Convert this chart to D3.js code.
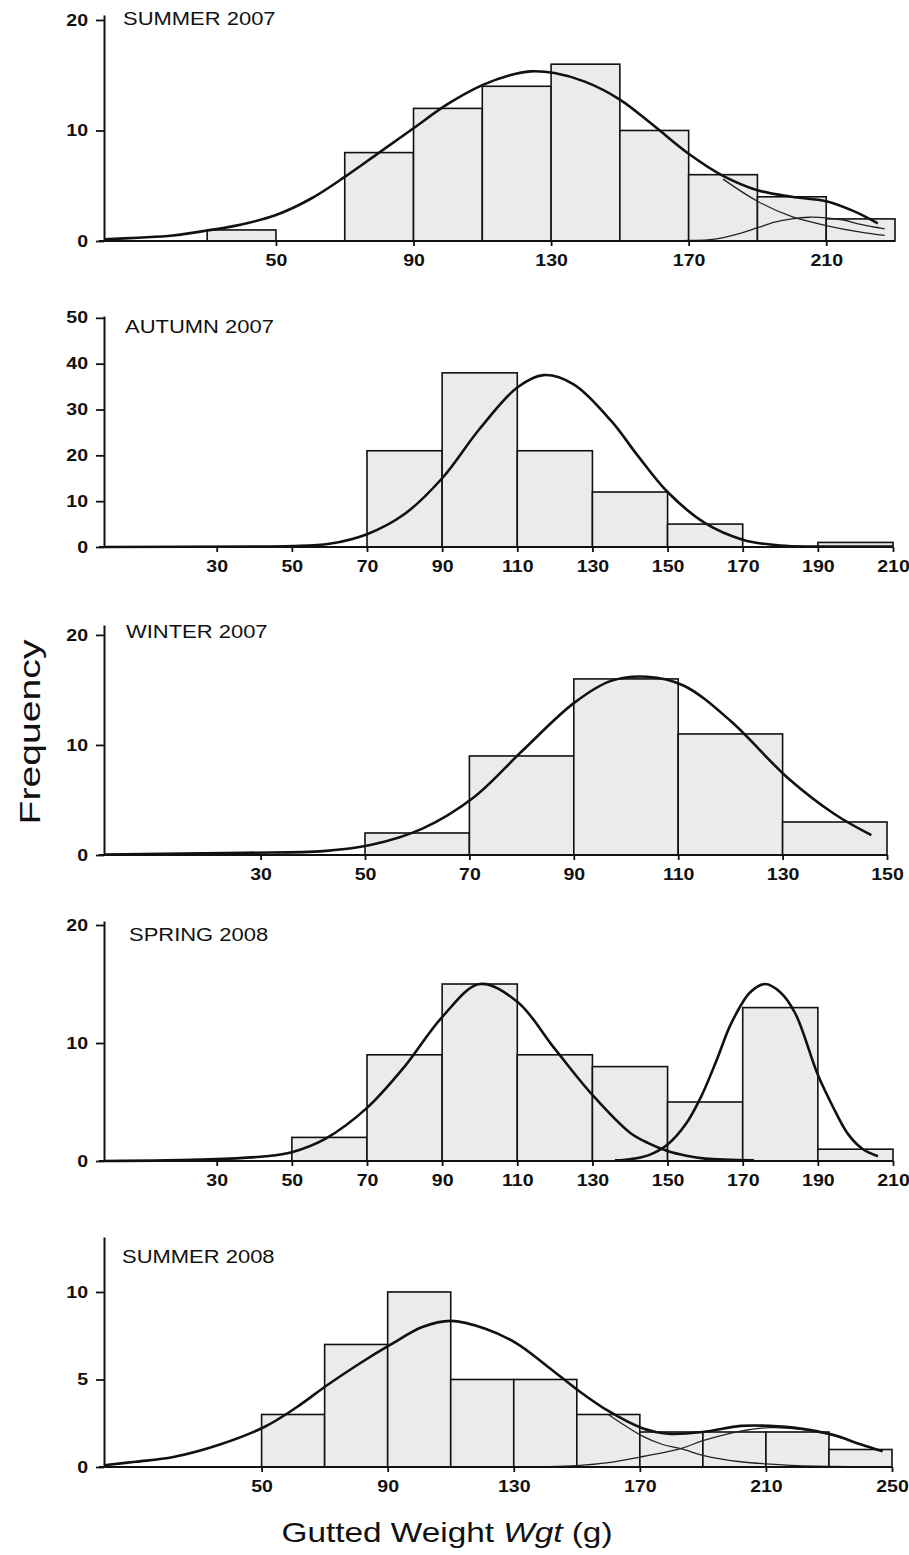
<!DOCTYPE html>
<html>
<head>
<meta charset="utf-8">
<script src="https://cdn.jsdelivr.net/npm/d3@7"></script>
<style>
  body { margin: 0; background: #fff; }
  svg { display: block; }
</style>
</head>
<body>
<div id="chart"></div>
<script>
// Panel titles
const titles = ["SUMMER 2007", "AUTUMN 2007", "WINTER 2007", "SPRING 2008", "SUMMER 2008"];

// Histogram bins: lower edge (g) and frequency, bins are 20 g wide
const binWidth = 20;
const binStarts1 = [30, 70, 90, 110, 130, 150, 170, 190, 210];
const counts1    = [1, 8, 12, 14, 16, 10, 6, 4, 2];
const binStarts2 = [70, 90, 110, 130, 150, 190];
const counts2    = [21, 38, 21, 12, 5, 1];
const binStarts3 = [50, 70, 90, 110, 130];
const counts3    = [2, 9, 16, 11, 3];
const binStarts4 = [50, 70, 90, 110, 130, 150, 170, 190];
const counts4    = [2, 9, 15, 9, 8, 5, 13, 1];
const binStarts5 = [50, 70, 90, 110, 130, 150, 170, 190, 210, 230];
const counts5    = [3, 7, 10, 5, 5, 3, 2, 2, 2, 1];

// Axis ticks and extents
const xTicks1 = [50, 90, 130, 170, 210];
const xTicks2 = [30, 50, 70, 90, 110, 130, 150, 170, 190, 210];
const xTicks3 = [30, 50, 70, 90, 110, 130, 150];
const xTicks4 = [30, 50, 70, 90, 110, 130, 150, 170, 190, 210];
const xTicks5 = [50, 90, 130, 170, 210, 250];
const yTicks1 = [0, 10, 20];
const yTicks2 = [0, 10, 20, 30, 40, 50];
const yTicks3 = [0, 10, 20];
const yTicks4 = [0, 10, 20];
const yTicks5 = [0, 5, 10];
const xMax = [230, 210, 150, 210, 250];
const yMax = [20.45, 50.4, 20.9, 20.34, 13.14];

// Fitted curves, points: [weight, frequency]
const fit1 = [[0,0.15],[10,0.3],[20,0.5],[30,0.95],[40,1.5],[50,2.35],[60,3.8],[70,5.8],[80,8.0],[90,10.2],[100,12.4],[110,14.1],[118,15.0],[124,15.35],[131,15.2],[140,14.4],[150,12.8],[160,10.4],[170,7.9],[180,5.9],[190,4.6],[200,4.0],[210,3.6],[218,2.7],[225,1.6]];
const comp1a = [[180,5.6],[190,3.6],[200,2.2],[210,1.4],[220,0.8],[227,0.5]];
const comp1b = [[160,0.02],[170,0.05],[177,0.15],[185,0.7],[190,1.2],[195,1.7],[200,2.0],[205,2.15],[210,2.1],[215,1.9],[220,1.5],[227,1.1]];
const fit2 = [[0,0],[40,0.1],[50,0.2],[60,0.7],[70,2.8],[80,7.2],[90,15],[100,25.8],[110,34.8],[117,37.5],[125,35.5],[135,27.5],[142,20],[150,12],[160,5.2],[170,1.6],[180,0.3],[190,0.1],[210,0.1]];
const fit3 = [[0,0.05],[27,0.2],[42,0.35],[51,0.9],[61,2.4],[71,5.3],[80,9.4],[90,13.8],[97,15.8],[104,16.2],[111,15.4],[120,12.2],[131,7],[140,3.7],[147,1.8]];
const fit4a = [[0,0],[28,0.14],[43,0.4],[50,0.75],[59,1.9],[70,4.5],[80,8],[90,12.2],[100,15],[110,13.5],[120,9.5],[130,5.6],[140,2.4],[145,1.5],[150,0.85],[155,0.45],[160,0.2],[173,0.05]];
const fit4b = [[136,0.05],[140,0.15],[145,0.5],[150,1.4],[155,3.2],[159,5.5],[163,8.5],[167,11.7],[172,14.3],[176,15],[180,14.3],[184,12.5],[190,7.3],[194,4.6],[198,2.3],[202,1.0],[206,0.4]];
const fit5 = [[0,0.1],[10,0.3],[22,0.57],[37,1.3],[51,2.3],[61,3.4],[71,4.7],[81,5.9],[91,7.0],[101,8.0],[110,8.35],[121,7.9],[131,7.05],[141,5.7],[151,4.3],[160,3.2],[171,2.2],[179,1.9],[190,2.0],[202,2.35],[211,2.35],[221,2.2],[231,1.85],[240,1.3],[247,0.9]];
const comp5a = [[160,3.0],[165,2.4],[171,1.75],[177,1.3],[183,1.05],[190,0.67],[196,0.45],[202,0.3],[210,0.18],[220,0.08],[240,0.02]];
const comp5b = [[141,0.02],[150,0.08],[160,0.25],[171,0.6],[183,1.05],[190,1.5],[202,2.05],[211,2.25],[221,2.15],[231,1.8],[240,1.3],[247,0.9]];

const binStarts = [binStarts1, binStarts2, binStarts3, binStarts4, binStarts5];
const counts = [counts1, counts2, counts3, counts4, counts5];
const xTicks = [xTicks1, xTicks2, xTicks3, xTicks4, xTicks5];
const yTicks = [yTicks1, yTicks2, yTicks3, yTicks4, yTicks5];
const thickCurves = [[fit1], [fit2], [fit3], [fit4a, fit4b], [fit5]];
const thinCurves = [[comp1a, comp1b], [], [], [], [comp5a, comp5b]];

// Page layout (pixels)
const width = 909, height = 1555;
const left = 104;
const layout = [
    { base: 241,  top: 15,   right: 895, titleX: 123, titleY: 25 },
    { base: 547,  top: 316,  right: 893, titleX: 125, titleY: 333 },
    { base: 855,  top: 625,  right: 887, titleX: 126, titleY: 638 },
    { base: 1161, top: 921,  right: 893, titleX: 129, titleY: 941 },
    { base: 1467, top: 1237, right: 892, titleX: 122, titleY: 1263 }
];
const stretch = 1.22;
const font = "'Liberation Sans', Arial, Helvetica, sans-serif";

// widen text the way the original picture is widened
function widen(sel, k) {
    sel.each(function () {
        const w = this.getComputedTextLength();
        d3.select(this).attr("textLength", w * k).attr("lengthAdjust", "spacingAndGlyphs");
    });
}

const svg = d3.select("#chart").append("svg")
    .attr("width", width)
    .attr("height", height)
    .style("background", "#fff");

layout.forEach((L, i) => {
    const x = d3.scaleLinear().domain([0, xMax[i]]).range([left, L.right]);
    const y = d3.scaleLinear().domain([0, yMax[i]]).range([L.base, L.top]);
    const g = svg.append("g");

    // bars
    g.selectAll("rect")
        .data(binStarts[i].map((b, j) => ({ b, c: counts[i][j] })))
        .enter().append("rect")
        .attr("x", d => x(d.b))
        .attr("y", d => y(d.c))
        .attr("width", d => x(d.b + binWidth) - x(d.b))
        .attr("height", d => y(0) - y(d.c))
        .attr("fill", "#ebebeb")
        .attr("stroke", "#111")
        .attr("stroke-width", 1.6);

    const line = d3.line()
        .x(d => x(d[0]))
        .y(d => y(Math.max(0, d[1])))
        .curve(d3.curveCatmullRom.alpha(0.5));

    thinCurves[i].forEach(c => {
        g.append("path").attr("d", line(c))
            .attr("fill", "none").attr("stroke", "#222").attr("stroke-width", 1.3);
    });
    thickCurves[i].forEach(c => {
        g.append("path").attr("d", line(c))
            .attr("fill", "none").attr("stroke", "#111").attr("stroke-width", 2.6)
            .attr("stroke-linejoin", "round");
    });

    // x axis
    const xa = g.append("g")
        .attr("transform", `translate(0,${L.base})`)
        .call(d3.axisBottom(x).tickValues(xTicks[i]).tickSize(5).tickPadding(9).tickSizeOuter(0));
    xa.select(".domain").remove();
    g.append("line")
        .attr("x1", left - 5).attr("x2", L.right)
        .attr("y1", L.base).attr("y2", L.base)
        .attr("stroke", "#111").attr("stroke-width", 2.2);

    // y axis
    const ya = g.append("g")
        .attr("transform", `translate(${left},0)`)
        .call(d3.axisLeft(y).tickValues(yTicks[i]).tickSize(8).tickPadding(8).tickSizeOuter(0));
    ya.select(".domain").attr("stroke", "#111").attr("stroke-width", 2);

    [xa, ya].forEach(a => {
        a.selectAll(".tick line").attr("stroke", "#111").attr("stroke-width", 1.8);
        a.selectAll("text")
            .attr("fill", "#111")
            .style("font-family", font)
            .style("font-weight", "bold")
            .style("font-size", "16px");
        widen(a.selectAll("text"), stretch);
    });

    // title
    const t = g.append("text")
        .attr("x", L.titleX).attr("y", L.titleY)
        .style("font-family", font)
        .style("font-size", "18px")
        .attr("fill", "#111")
        .text(titles[i]);
    widen(t, stretch);
});

// y axis title
svg.append("text")
    .attr("transform", "translate(40,732) rotate(-90)")
    .attr("text-anchor", "middle")
    .style("font-family", font)
    .style("font-size", "30px")
    .attr("fill", "#111")
    .attr("textLength", 185)
    .attr("lengthAdjust", "spacingAndGlyphs")
    .text("Frequency");

// x axis title
const xt = svg.append("text")
    .attr("x", 447).attr("y", 1542)
    .attr("text-anchor", "middle")
    .style("font-family", font)
    .style("font-size", "28px")
    .attr("fill", "#111");
xt.append("tspan").text("Gutted Weight ");
xt.append("tspan").style("font-style", "italic").text("Wgt");
xt.append("tspan").text(" (g)");
xt.attr("textLength", 331).attr("lengthAdjust", "spacingAndGlyphs");
</script>
</body>
</html>
